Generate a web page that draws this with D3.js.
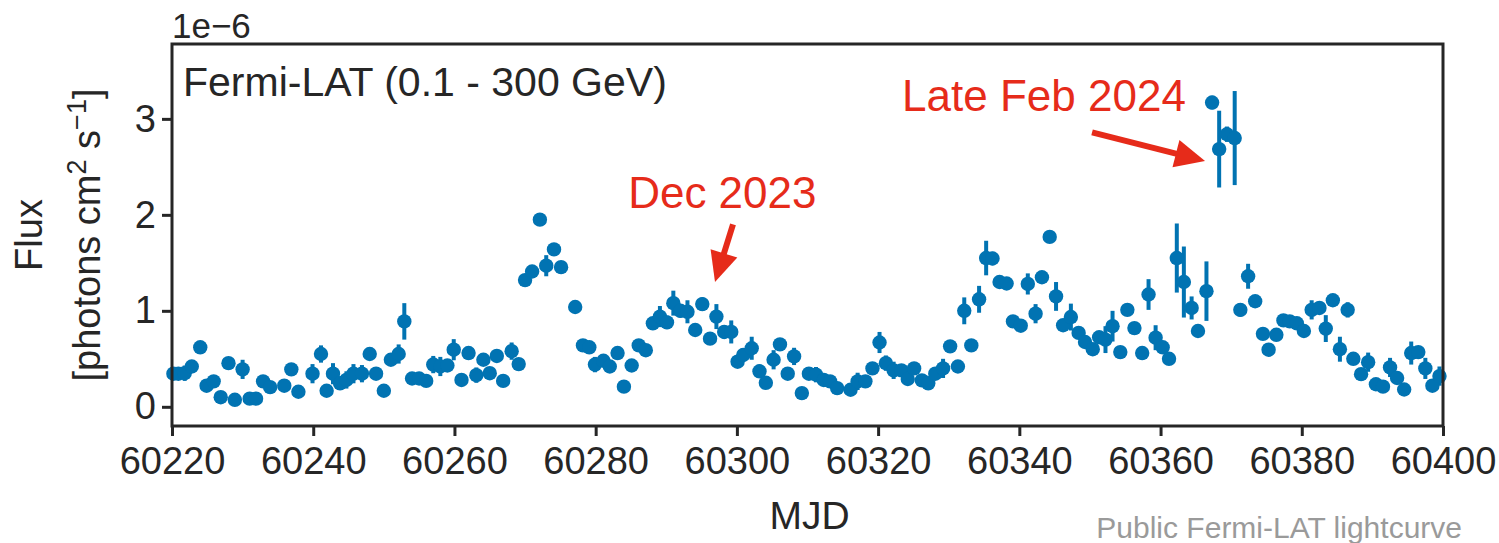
<!DOCTYPE html>
<html>
<head>
<meta charset="utf-8">
<script src="https://cdn.jsdelivr.net/npm/d3@7"></script>
<style>
  body { margin: 0; background: #fff; }
  text { font-family: "Liberation Sans", Arial, Helvetica, sans-serif; }
</style>
</head>
<body>
<svg id="chart" width="1499" height="543"></svg>
<script>
// Fermi-LAT daily lightcurve, flux in units of 1e-6 photons cm^-2 s^-1
var mjd = [
  60220.2, 60220.9, 60221.8, 60222.8, 60224.0, 60224.9, 60225.9, 60226.9, 60228.0, 60228.9,
  60230.0, 60231.0, 60231.9, 60232.9, 60233.9, 60235.9, 60236.9, 60237.9, 60239.9, 60241.1,
  60241.9, 60242.8, 60243.8, 60244.7, 60245.7, 60246.9, 60248.0, 60248.9, 60250.0, 60251.0,
  60252.1, 60252.9, 60254.0, 60255.0, 60256.0, 60257.0, 60258.0, 60259.0, 60259.9, 60261.0,
  60262.0, 60263.1, 60264.1, 60265.0, 60266.0, 60266.9, 60268.1, 60269.1, 60270.0, 60271.0,
  60272.1, 60273.0, 60274.1, 60275.1, 60277.1, 60278.2, 60279.1, 60279.9, 60281.1, 60282.0,
  60283.1, 60284.0, 60285.1, 60286.1, 60287.1, 60288.1, 60289.1, 60290.1, 60291.0, 60292.0,
  60293.0, 60294.1, 60295.1, 60296.2, 60297.1, 60298.2, 60299.2, 60300.1, 60300.9, 60302.1,
  60303.2, 60304.1, 60305.2, 60306.1, 60307.2, 60308.1, 60309.2, 60310.2, 60311.2, 60312.3,
  60313.2, 60314.2, 60316.1, 60317.1, 60318.2, 60319.2, 60320.2, 60321.1, 60322.2, 60323.3,
  60324.2, 60325.1, 60326.2, 60327.1, 60328.1, 60329.2, 60330.2, 60331.3, 60332.2, 60333.2,
  60334.3, 60335.3, 60336.2, 60337.2, 60338.2, 60339.1, 60340.2, 60341.2, 60342.3, 60343.2,
  60344.3, 60345.2, 60346.2, 60347.3, 60348.4, 60349.3, 60350.4, 60351.3, 60352.2, 60353.2,
  60354.3, 60355.3, 60356.3, 60357.4, 60358.3, 60359.3, 60360.3, 60361.2, 60362.3, 60363.3,
  60364.4, 60365.3, 60366.5, 60367.3, 60368.3, 60369.4, 60370.5, 60371.3, 60372.4, 60373.4,
  60374.5, 60375.3, 60376.4, 60377.4, 60378.3, 60379.3, 60380.3, 60381.4, 60382.5, 60383.4,
  60384.4, 60385.4, 60386.5, 60387.3, 60388.4, 60389.4, 60390.5, 60391.5, 60392.5, 60393.5,
  60394.5, 60395.5, 60396.5, 60397.5, 60398.5, 60399.5
];
var flux = [
  0.345, 0.345, 0.35, 0.42, 0.62, 0.22, 0.265, 0.10, 0.455, 0.073,
  0.39, 0.085, 0.085, 0.265, 0.205, 0.22, 0.39, 0.157, 0.345, 0.55,
  0.167, 0.345, 0.245, 0.28, 0.345, 0.345, 0.55, 0.345, 0.167, 0.49,
  0.55, 0.89, 0.295, 0.295, 0.27, 0.44, 0.42, 0.43, 0.595, 0.28,
  0.56, 0.33, 0.49, 0.35, 0.53, 0.27, 0.58, 0.445, 1.32, 1.41,
  1.95, 1.47, 1.64, 1.455, 1.04, 0.64, 0.62, 0.44, 0.48, 0.42,
  0.56, 0.21, 0.43, 0.64, 0.59, 0.87, 0.94, 0.88, 1.08, 1.00,
  0.99, 0.80, 1.07, 0.71, 0.94, 0.78, 0.78, 0.47, 0.54, 0.61,
  0.37, 0.25, 0.49, 0.65, 0.345, 0.525, 0.143, 0.345, 0.335, 0.28,
  0.265, 0.195, 0.178, 0.265, 0.265, 0.40, 0.67, 0.455, 0.38, 0.38,
  0.29, 0.40, 0.275, 0.245, 0.345, 0.40, 0.63, 0.42, 1.00, 0.64,
  1.12, 1.55, 1.545, 1.30, 1.285, 0.89, 0.845, 1.28, 0.97, 1.35,
  1.77, 1.15, 0.85, 0.935, 0.77, 0.675, 0.60, 0.725, 0.70, 0.84,
  0.57, 1.01, 0.82, 0.56, 1.17, 0.72, 0.62, 0.50, 1.55, 1.30,
  1.03, 0.79, 1.205, 3.17, 2.685, 2.84, 2.80, 1.01, 1.36, 1.10,
  0.76, 0.595, 0.75, 0.90, 0.89, 0.87, 0.79, 1.01, 1.03, 0.815,
  1.11, 0.60, 1.01, 0.50, 0.34, 0.465, 0.235, 0.21, 0.41, 0.30,
  0.18, 0.56, 0.57, 0.40, 0.22, 0.32
];
var fluxErr = [
  0.05, 0.05, 0.08, 0.06, 0.05, 0.05, 0.06, 0.05, 0.05, 0.05,
  0.10, 0.05, 0.05, 0.06, 0.05, 0.05, 0.06, 0.05, 0.10, 0.09,
  0.05, 0.11, 0.06, 0.09, 0.10, 0.09, 0.06, 0.05, 0.05, 0.06,
  0.10, 0.19, 0.05, 0.05, 0.05, 0.09, 0.10, 0.06, 0.11, 0.05,
  0.06, 0.08, 0.06, 0.06, 0.06, 0.05, 0.09, 0.06, 0.06, 0.06,
  0.06, 0.11, 0.06, 0.06, 0.05, 0.05, 0.05, 0.08, 0.06, 0.06,
  0.06, 0.05, 0.06, 0.06, 0.06, 0.06, 0.11, 0.07, 0.13, 0.07,
  0.12, 0.06, 0.07, 0.06, 0.13, 0.07, 0.12, 0.06, 0.07, 0.12,
  0.07, 0.06, 0.10, 0.06, 0.06, 0.09, 0.05, 0.06, 0.08, 0.06,
  0.06, 0.06, 0.06, 0.09, 0.06, 0.06, 0.11, 0.08, 0.09, 0.06,
  0.06, 0.06, 0.06, 0.06, 0.06, 0.10, 0.06, 0.06, 0.14, 0.06,
  0.14, 0.18, 0.07, 0.06, 0.06, 0.06, 0.06, 0.11, 0.10, 0.06,
  0.06, 0.15, 0.06, 0.14, 0.06, 0.06, 0.06, 0.06, 0.14, 0.16,
  0.06, 0.06, 0.06, 0.06, 0.16, 0.13, 0.06, 0.06, 0.36, 0.37,
  0.12, 0.06, 0.31, 0.07, 0.40, 0.08, 0.49, 0.07, 0.13, 0.06,
  0.06, 0.06, 0.06, 0.06, 0.06, 0.06, 0.06, 0.10, 0.06, 0.14,
  0.06, 0.13, 0.08, 0.06, 0.06, 0.10, 0.06, 0.06, 0.10, 0.06,
  0.06, 0.12, 0.06, 0.11, 0.06, 0.10
];
var xTicks = [60220, 60240, 60260, 60280, 60300, 60320, 60340, 60360, 60380, 60400];
var yTicks = [0, 1, 2, 3];

var width = 1499, height = 543;
var margin = {top: 44, right: 56, bottom: 117, left: 172};
var ink = "#262626", blue = "#0173b2", red = "#e62b1a";

var svg = d3.select("#chart");

var x = d3.scaleLinear().domain([60220, 60400]).range([margin.left, width - margin.right]);
var y = d3.scaleLinear().domain([-0.2, 3.78]).range([height - margin.bottom, margin.top]);

var points = mjd.map(function(d, i) {
    return {t: d, f: flux[i], e: fluxErr[i]};
});

// error bars
svg.append("g").selectAll("line").data(points).enter().append("line")
    .attr("x1", function(d) { return x(d.t); })
    .attr("x2", function(d) { return x(d.t); })
    .attr("y1", function(d) { return y(d.f - d.e); })
    .attr("y2", function(d) { return y(d.f + d.e); })
    .attr("stroke", blue).attr("stroke-width", 4);

// markers
svg.append("g").selectAll("circle").data(points).enter().append("circle")
    .attr("cx", function(d) { return x(d.t); })
    .attr("cy", function(d) { return y(d.f); })
    .attr("r", 7.2)
    .attr("fill", blue);

// axes
var xAxis = svg.append("g")
    .attr("transform", "translate(0," + (height - margin.bottom) + ")")
    .call(d3.axisBottom(x).tickValues(xTicks).tickFormat(d3.format("d")).tickSize(10).tickPadding(11));
var yAxis = svg.append("g")
    .attr("transform", "translate(" + margin.left + ",0)")
    .call(d3.axisLeft(y).tickValues(yTicks).tickFormat(d3.format("d")).tickSize(10).tickPadding(6));

[xAxis, yAxis].forEach(function(a) {
    a.select(".domain").remove();
    a.selectAll(".tick line").attr("stroke", ink).attr("stroke-width", 3);
    a.selectAll(".tick text").attr("fill", ink).style("font-size", "38px")
        .style("font-family", "'Liberation Sans', Arial, sans-serif");
});

// frame
svg.append("rect")
    .attr("x", margin.left).attr("y", margin.top)
    .attr("width", width - margin.left - margin.right)
    .attr("height", height - margin.top - margin.bottom)
    .attr("fill", "none").attr("stroke", ink).attr("stroke-width", 3);

// offset text + labels
svg.append("text").attr("x", margin.left).attr("y", 38)
    .attr("fill", ink).style("font-size", "35px").text("1e\u22126");

svg.append("text").attr("x", (margin.left + width - margin.right) / 2 + 2).attr("y", 529)
    .attr("text-anchor", "middle").attr("fill", ink).style("font-size", "39px").text("MJD");

var yMid = (margin.top + height - margin.bottom) / 2;
svg.append("text")
    .attr("transform", "translate(42," + yMid + ") rotate(-90)")
    .attr("text-anchor", "middle").attr("fill", ink).style("font-size", "38px").text("Flux");
var yl2 = svg.append("text")
    .attr("transform", "translate(100," + yMid + ") rotate(-90)")
    .attr("text-anchor", "middle").attr("fill", ink).style("font-size", "38px");
yl2.append("tspan").text("[photons cm");
yl2.append("tspan").attr("dy", -14).style("font-size", "27px").text("2");
yl2.append("tspan").attr("dy", 14).text(" s");
yl2.append("tspan").attr("dy", -14).style("font-size", "27px").text("\u22121");
yl2.append("tspan").attr("dy", 14).text("]");

svg.append("text").attr("x", 183).attr("y", 96)
    .attr("fill", ink).style("font-size", "41px").text("Fermi-LAT (0.1 - 300 GeV)");

svg.append("text").attr("x", 1462).attr("y", 538)
    .attr("text-anchor", "end").attr("fill", "#9a9a9a").style("font-size", "30px")
    .text("Public Fermi-LAT lightcurve");

// annotations: arrows given in data coordinates
var notes = [
    {label: "Dec 2023", tx: 60284.6, ty: 2.07, from: [60299.45, 1.90], to: [60296.9, 1.30]},
    {label: "Late Feb 2024", tx: 60323.4, ty: 3.08, from: [60350.3, 2.86], to: [60366.3, 2.56]}
];

notes.forEach(function(n) {
    svg.append("text").attr("x", x(n.tx)).attr("y", y(n.ty))
        .attr("fill", red).style("font-size", "44px").text(n.label);

    var x0 = x(n.from[0]), y0 = y(n.from[1]), x1 = x(n.to[0]), y1 = y(n.to[1]);
    var dx = x1 - x0, dy = y1 - y0, len = Math.sqrt(dx * dx + dy * dy);
    var ux = dx / len, uy = dy / len, px = -uy, py = ux;
    var headLen = 30, headHalf = 14;
    var bx = x1 - ux * headLen, by = y1 - uy * headLen;
    svg.append("line")
        .attr("x1", x0).attr("y1", y0).attr("x2", bx + ux * 2).attr("y2", by + uy * 2)
        .attr("stroke", red).attr("stroke-width", 6);
    svg.append("path")
        .attr("d", "M" + x1 + "," + y1 +
            "L" + (bx + px * headHalf) + "," + (by + py * headHalf) +
            "L" + (bx - px * headHalf) + "," + (by - py * headHalf) + "Z")
        .attr("fill", red);
});
</script>
</body>
</html>
